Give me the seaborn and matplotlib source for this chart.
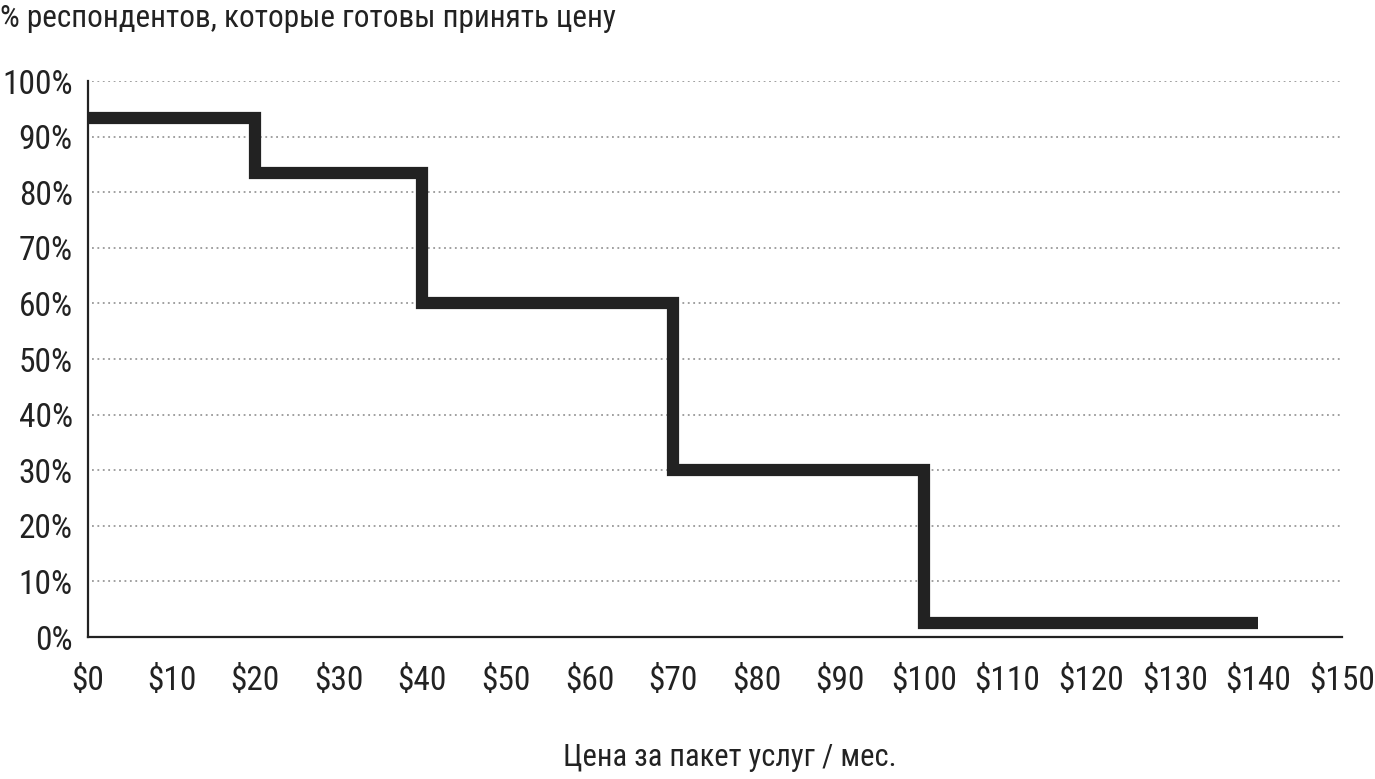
import matplotlib
matplotlib.use("Agg")
import matplotlib.pyplot as plt
import seaborn as sns
import pandas as pd
from matplotlib import font_manager

sns.set_style("white")

names = {f.name for f in font_manager.fontManager.ttflist}
fam = [n for n in ["Roboto Condensed", "Liberation Sans Narrow", "DejaVu Sans Condensed", "Liberation Sans", "DejaVu Sans"] if n in names]
plt.rcParams['font.family'] = fam

# data
prices = [0, 20, 40, 70, 100, 140]
share = [93.3, 83.4, 60, 30, 2.6, 2.6]
x_ticks = list(range(0, 151, 10))
x_labels = [f"${v}" for v in x_ticks]
y_ticks = list(range(0, 101, 10))
y_labels = [f"{v}%" for v in y_ticks]
title = "% респондентов, которые готовы принять цену"
xlabel = "Цена за пакет услуг / мес."

df = pd.DataFrame({"price": prices, "share": share})

fig = plt.figure(figsize=(13.75, 7.79), dpi=100)
ax = fig.add_axes([88/1375, 1-637/779, (1342-88)/1375, (637-81)/779])

sns.lineplot(data=df, x="price", y="share", ax=ax, drawstyle="steps-post",
             color="#222222", linewidth=8.8, solid_joinstyle="miter",
             solid_capstyle="butt", zorder=3, clip_on=False)

ax.set_xlim(0, 150)
ax.set_ylim(0, 100)
ax.set_xticks(x_ticks)
ax.set_xticklabels(x_labels)
ax.set_yticks(y_ticks)
ax.set_yticklabels(y_labels)

for y in y_ticks[1:]:
    ax.axhline(y, color="#999999", linestyle=(0, (1, 2)), linewidth=1.3, zorder=1, xmin=0.003)

for s in ["top", "right"]:
    ax.spines[s].set_visible(False)
for s in ["left", "bottom"]:
    ax.spines[s].set_color("#222222")
    ax.spines[s].set_linewidth(1.6)
ax.spines["left"].set_bounds(0, 100)

ax.tick_params(axis="x", length=16, width=1.6, color="#222222", direction="out",
               labelsize=24, labelcolor="#222222", pad=4)
ax.tick_params(axis="y", length=0, labelsize=24, labelcolor="#222222", pad=11)
ax.set_xlabel(xlabel, fontsize=22, color="#222222", labelpad=33)
ax.xaxis.label.set_x((730 - 88) / 1254)
ax.set_ylabel("")
fig.text(0.0, 1 - 4/779, title, fontsize=22.5, color="#222222", ha="left", va="top")

fig.savefig("out.png", dpi=100)
